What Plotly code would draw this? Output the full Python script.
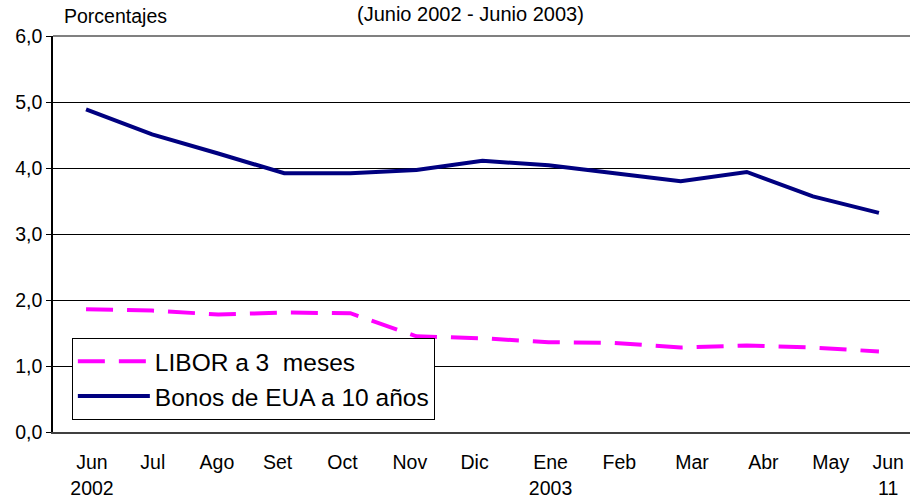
import plotly.graph_objects as go

# ---- data ----
months = ["Jun", "Jul", "Ago", "Set", "Oct", "Nov", "Dic", "Ene", "Feb", "Mar", "Abr", "May", "Jun"]
tick_text = ["Jun<br>2002", "Jul", "Ago", "Set", "Oct", "Nov", "Dic", "Ene<br>2003",
             "Feb", "Mar", "Abr", "May", "Jun<br>11"]
libor = [1.86, 1.84, 1.78, 1.81, 1.80, 1.45, 1.42, 1.36, 1.35, 1.28, 1.31, 1.28, 1.22]
bonos = [4.89, 4.51, 4.22, 3.92, 3.92, 3.97, 4.11, 4.04, 3.92, 3.80, 3.94, 3.57, 3.32]

# ---- layout helpers (label placement, not data) ----
x_idx = list(range(len(months)))
tick_pos = [0.09, 1.01, 1.98, 2.90, 3.88, 4.90, 5.88, 7.03, 8.07, 9.17, 10.25, 11.27, 12.14]

FONT = "Arial, Liberation Sans, sans-serif"

fig = go.Figure()
fig.add_trace(go.Scatter(
    x=x_idx, y=libor, mode="lines", name="LIBOR a 3\u00a0 meses",
    line=dict(color="#FF00FF", width=4, dash="27px,14px"),
))
fig.add_trace(go.Scatter(
    x=x_idx, y=bonos, mode="lines", name="Bonos de EUA a 10 años",
    line=dict(color="#000080", width=4),
))

fig.update_layout(
    width=910, height=502,
    margin=dict(l=53, r=0, t=36, b=70),
    paper_bgcolor="white", plot_bgcolor="white",
    separators=",.",
    font=dict(family=FONT, size=19.5, color="black"),
    showlegend=True,
    legend=dict(
        x=0.022, y=0.238, xanchor="left", yanchor="top",
        bgcolor="white", bordercolor="black", borderwidth=1,
        font=dict(family=FONT, size=24.5, color="black"),
        itemwidth=72, tracegroupgap=0,
    ),
    xaxis=dict(
        range=[-0.5, 12.47], automargin=False,
        tickmode="array", tickvals=tick_pos, ticktext=tick_text,
        ticks="outside", ticklen=12, tickcolor="rgba(0,0,0,0)",
        showgrid=False, zeroline=False,
        showline=True, linecolor="#404040", linewidth=2,
        tickfont=dict(family=FONT, size=19.5, color="black"),
    ),
    yaxis=dict(
        range=[0, 6], dtick=1, tickformat=".1f", automargin=False,
        ticks="outside", ticklen=5, tickcolor="black", tickwidth=1,
        showgrid=True, gridcolor="black", gridwidth=1,
        zeroline=False,
        showline=True, linecolor="black", linewidth=1.5,
        tickfont=dict(family=FONT, size=19.5, color="black"),
    ),
    shapes=[dict(type="line", xref="paper", yref="paper", x0=0, x1=1, y0=1, y1=1,
                 line=dict(color="#808080", width=2))],
    annotations=[
        dict(text="Porcentajes", xref="paper", yref="paper", x=0.0105, y=1.0505,
             xanchor="left", yanchor="middle", showarrow=False,
             font=dict(family=FONT, size=19.5, color="black")),
        dict(text="(Junio 2002 - Junio 2003)", xref="paper", yref="paper", x=0.4866, y=1.0556,
             xanchor="center", yanchor="middle", showarrow=False,
             font=dict(family=FONT, size=20, color="black")),
    ],
)

fig.write_html(
    "out.html",
    config={"displayModeBar": False},
    post_script="document.body.style.margin='0';document.body.style.overflow='hidden';",
)
